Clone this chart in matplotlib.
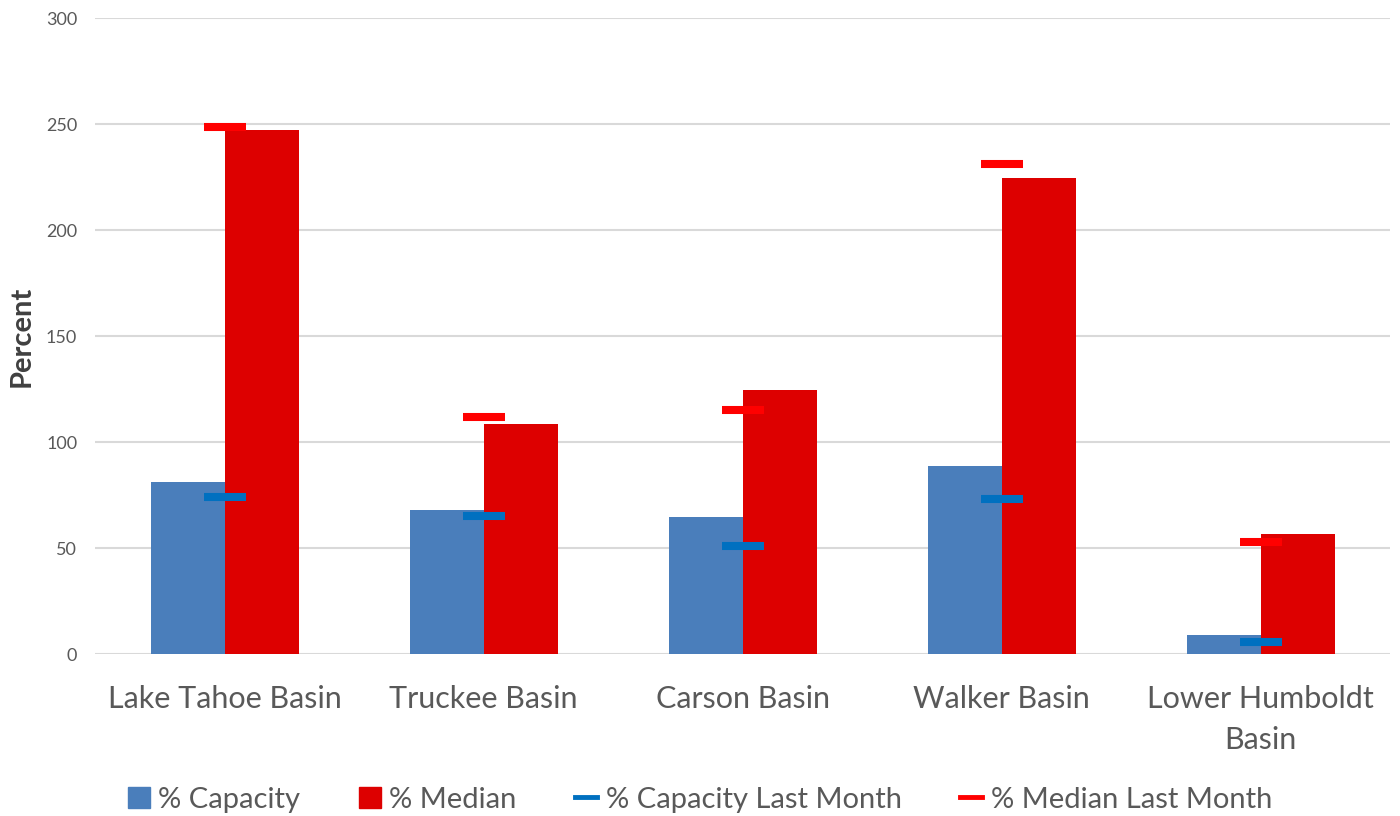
import numpy as np
import matplotlib.pyplot as plt
from matplotlib.patches import Patch
from matplotlib.lines import Line2D

plt.rcParams['font.family'] = ['Lato', 'DejaVu Sans']

basins = ['Lake Tahoe Basin', 'Truckee Basin', 'Carson Basin', 'Walker Basin', 'Lower Humboldt\nBasin']
pct_capacity = [81, 68, 64.5, 88.5, 9]
pct_median = [247, 108.5, 124.5, 224.5, 56.5]
pct_capacity_last = [74, 65, 51, 73, 5.5]
pct_median_last = [248.5, 112, 115, 231, 53]

blue_bar = '#4A7EBB'
red_bar = '#DD0000'
blue_mark = '#0070C0'
red_mark = '#FF0000'
gray_txt = '#595959'

fig = plt.figure(figsize=(14, 8.16), dpi=100)
ax = fig.add_axes([0.068, 0.1985, 0.925, 0.7794])

x = np.arange(len(basins))
w = 0.286
ax.bar(x - w / 2, pct_capacity, width=w, color=blue_bar, zorder=2)
ax.bar(x + w / 2, pct_median, width=w, color=red_bar, zorder=2)

# last month values drawn as short dashes centred on each group
ax.plot(x, pct_capacity_last, ls='none', marker='_', markersize=30,
        markeredgewidth=5.8, color=blue_mark, zorder=3)
ax.plot(x, pct_median_last, ls='none', marker='_', markersize=30,
        markeredgewidth=5.8, color=red_mark, zorder=3)

ax.set_xlim(-0.5, len(basins) - 0.5)
ax.set_ylim(0, 300)
ax.set_yticks(range(0, 301, 50))
ax.set_xticks(x)
ax.set_xticklabels(basins, fontsize=22, color=gray_txt, linespacing=1.6)
ax.tick_params(axis='x', length=0, pad=22)
ax.tick_params(axis='y', length=0, pad=13, labelsize=13, labelcolor=gray_txt)
ax.grid(axis='y', color='#D9D9D9', linewidth=1.5, zorder=0)
ax.set_axisbelow(True)
for s in ax.spines.values():
    s.set_visible(False)
ax.set_ylabel('Percent', fontsize=21, fontweight='bold', color='#404040')
ax.yaxis.set_label_coords(-0.047, 0.5)

handles = [
    Patch(color=blue_bar),
    Patch(color=red_bar),
    Line2D([], [], color=blue_mark, lw=3.5),
    Line2D([], [], color=red_mark, lw=3.5),
]
labels = ['% Capacity', '% Median', '% Capacity Last Month', '% Median Last Month']
fig.legend(handles, labels, loc='center', bbox_to_anchor=(0.5, 0.02), ncol=4,
           frameon=False, fontsize=21, labelcolor=gray_txt, handlelength=0.75,
           handleheight=0.75, handletextpad=0.3, columnspacing=2.0)

fig.savefig('out.png', dpi=100)
